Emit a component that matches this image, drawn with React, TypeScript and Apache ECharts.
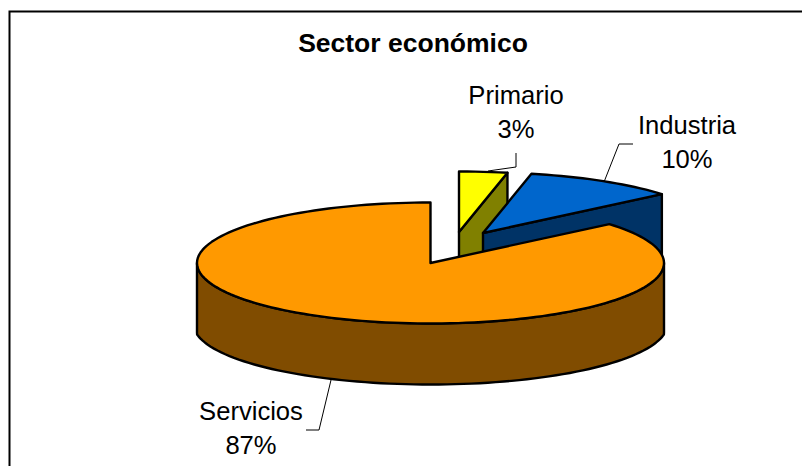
import React, { useEffect, useRef } from "react";
import * as echarts from "echarts";

// Data (drawn clockwise from 12 o'clock, same order as the source pie)
const categories = ["Primario", "Industria", "Servicios"];
const values = [3, 10, 87];
const chartTitle = "Sector económico";

// Layout and styles
const WIDTH = 802;
const HEIGHT = 466;
const FONT = '"Liberation Sans", Arial, sans-serif';
const RX = 233.5;
const RX_FLOOR = 237;
const RY = 60.5;
const DEPTH = 61;
const CENTER: [number, number] = [430.5, 263];
const sliceLayout = [
  { dx: 28.5, dy: -31, top: "#FFFF00", side: "#808000", labelX: 516, labelY: 112, lead: [[516, 153], [516, 167], [488, 171]] },
  { dx: 52.5, dy: -30, top: "#0066CC", side: "#003366", labelX: 687, labelY: 142, lead: [[633, 144], [619, 144], [604, 182]] },
  { dx: 0, dy: 0, top: "#FF9900", side: "#804C00", labelX: 251, labelY: 428, lead: [[306, 430], [319, 430], [331, 380]] },
];

// Viewing-angle correction of the tilted pie: degrees on the disc to degrees on screen
const tilt = (deg: number) => deg + 3.2 * Math.sin((2 * deg * Math.PI) / 180);

const rim = (cx: number, cy: number, deg: number): number[] => {
  const a = (deg * Math.PI) / 180;
  return [cx + RX * Math.sin(a), cy - RY * Math.cos(a)];
};

const arc = (cx: number, cy: number, from: number, to: number): number[][] => {
  const pts: number[][] = [];
  const n = Math.max(2, Math.ceil(Math.abs(to - from) / 2));
  for (let i = 0; i <= n; i++) pts.push(rim(cx, cy, from + ((to - from) * i) / n));
  return pts;
};

// Lower edge of the wall: slightly fuller than the top disc, squared off at the sides
const floorArc = (cx: number, cy: number): number[][] => {
  const pts: number[][] = [];
  for (let deg = 270; deg >= 90; deg -= 2) {
    const a = (deg * Math.PI) / 180;
    const x = Math.max(-RX, Math.min(RX, RX_FLOOR * Math.sin(a)));
    pts.push([cx + x, cy - RY * Math.cos(a)]);
  }
  return pts;
};

const total = values.reduce((s, v) => s + v, 0);

const renderItem = (params: any, api: any) => {
  const idx = params.dataIndex;
  let before = 0;
  for (let i = 0; i < idx; i++) before += values[i];
  const value = api.value(0);
  const start = tilt((before / total) * 360);
  const end = tilt(((before + value) / total) * 360);
  const lay = sliceLayout[idx];
  const cx = CENTER[0] + lay.dx;
  const cy = CENTER[1] + lay.dy;

  const edge = { stroke: "#000", lineWidth: 2.4, lineJoin: "round" };
  const children: any[] = [];
  const endPt = rim(cx, cy, end);

  if (end < 180) {
    // cut face seen from the front
    children.push({
      type: "polygon",
      shape: { points: [[cx, cy], endPt, [endPt[0], endPt[1] + DEPTH], [cx, cy + DEPTH]] },
      style: { fill: lay.side, ...edge },
    });
  } else {
    // outer wall seen from the front
    const topEdge = arc(cx, cy, 90, 270);
    const bottomEdge = floorArc(cx, cy + DEPTH);
    children.push({
      type: "polygon",
      shape: { points: [...topEdge, ...bottomEdge] },
      style: { fill: lay.side, ...edge },
    });
  }
  children.push({
    type: "polygon",
    shape: { points: [[cx, cy], ...arc(cx, cy, start, end)] },
    style: { fill: lay.top, ...edge },
  });
  children.push({
    type: "polyline",
    shape: { points: lay.lead },
    style: { stroke: "#000", lineWidth: 1, fill: "none" },
  });
  children.push({
    type: "text",
    style: {
      text: `${categories[idx]}\n${Math.round((value / total) * 100)}%`,
      x: lay.labelX,
      y: lay.labelY,
      align: "center",
      verticalAlign: "middle",
      font: `25.6px ${FONT}`,
      lineHeight: 34,
      fill: "#000",
    },
  });
  return { type: "group", children };
};

export default function App() {
  const ref = useRef<HTMLDivElement>(null);
  useEffect(() => {
    const chart = echarts.init(ref.current!, null, { renderer: "svg" });
    chart.setOption({
      animation: false,
      backgroundColor: "#fff",
      title: {
        text: chartTitle,
        left: 408,
        top: 24,
        textAlign: "center",
        textStyle: { fontFamily: FONT, fontSize: 26.5, fontWeight: "bold", color: "#000" },
      },
      graphic: [
        {
          type: "polyline",
          silent: true,
          shape: { points: [[9.5, HEIGHT], [9.5, 11.5], [WIDTH, 11.5]] },
          style: { stroke: "#000", lineWidth: 2, fill: "none" },
        },
      ],
      series: [
        {
          type: "custom",
          coordinateSystem: "none",
          silent: true,
          renderItem,
          data: values.map((v) => [v]),
        },
      ],
    });
    return () => chart.dispose();
  }, []);
  return <div ref={ref} style={{ position: "fixed", left: 0, top: 0, width: WIDTH, height: HEIGHT }} />;
}
